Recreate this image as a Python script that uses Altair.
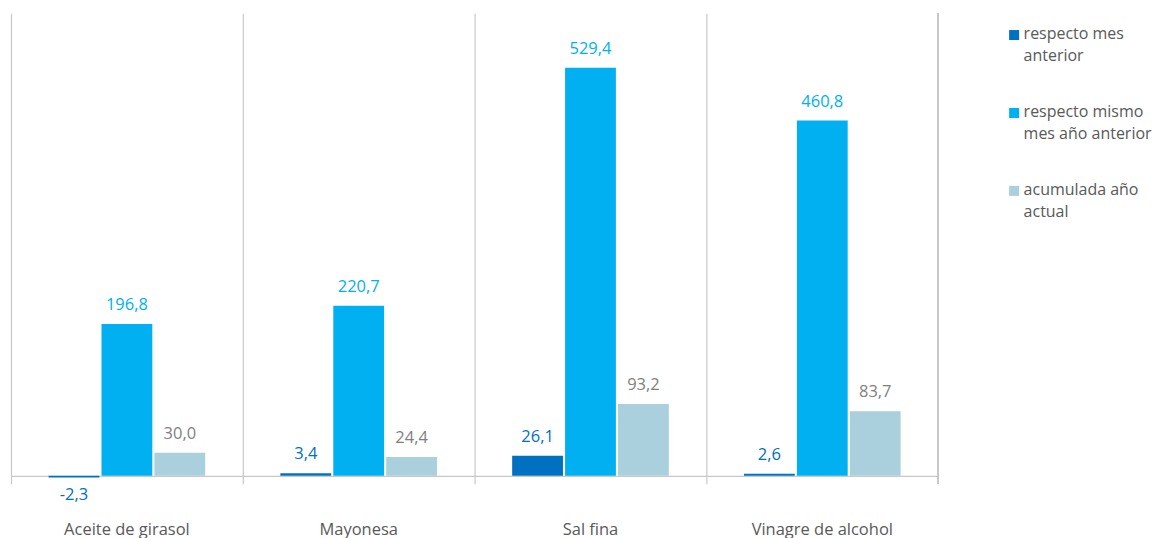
import altair as alt
import pandas as pd

categories = ["Aceite de girasol", "Mayonesa", "Sal fina", "Vinagre de alcohol"]
series = ["respecto mes anterior", "respecto mismo mes año anterior", "acumulada año actual"]
legend_text = ["respecto mes\nanterior", "respecto mismo\nmes año anterior", "acumulada año\nactual"]
mes_anterior = [-2.3, 3.4, 26.1, 2.6]
mismo_mes = [196.8, 220.7, 529.4, 460.8]
acumulada = [30.0, 24.4, 93.2, 83.7]

bar_colors = ["#0070C0", "#00B0F0", "#AAD0DE"]
text_colors = ["#0070C0", "#00B0F0", "#7F7F7F"]

rows = []
for s, vals in zip(series, [mes_anterior, mismo_mes, acumulada]):
    for c, v in zip(categories, vals):
        rows.append({"cat": c, "serie": s, "valor": v,
                     "label": f"{v:.1f}".replace(".", ",")})
df = pd.DataFrame(rows)
leg_df = pd.DataFrame({"serie": series, "texto": legend_text})

W, H = 928, 463
FONT = "Open Sans"
FS = 16.5
GRID = "#C8C8C8"

x = alt.X("cat:N", sort=categories, title=None,
          scale=alt.Scale(paddingInner=0, paddingOuter=0),
          axis=alt.Axis(bandPosition=0, grid=True, gridColor=GRID, gridWidth=1.2,
                        domainColor=GRID, domainWidth=1.2,
                        tickColor=GRID, tickWidth=1.2, tickSize=8,
                        labelAngle=0, labelFontSize=FS, labelColor="#595959", labelFont=FONT,
                        labelPadding=38, labelAlign="center"))
xoff = alt.XOffset("serie:N", sort=series,
                   scale=alt.Scale(paddingInner=0.04, paddingOuter=0.71))
y = alt.Y("valor:Q", scale=alt.Scale(domain=[0, 600], nice=False, clamp=False), axis=None)

color = alt.Color("serie:N", sort=series,
                  scale=alt.Scale(domain=series, range=bar_colors), legend=None)

bars = alt.Chart(df).mark_bar().encode(x=x, xOffset=xoff, y=y, color=color)

tcolor = alt.Color("serie:N", sort=series,
                   scale=alt.Scale(domain=series, range=text_colors), legend=None)

pos_text = alt.Chart(df).transform_filter("datum.valor >= 0").mark_text(
    baseline="bottom", dy=-11, fontSize=FS, font=FONT
).encode(x=x, xOffset=xoff, y=y, text="label:N", color=tcolor)

neg_text = alt.Chart(df).transform_filter("datum.valor < 0").mark_text(
    baseline="top", dy=9, fontSize=FS, font=FONT
).encode(x=x, xOffset=xoff, y=y, text="label:N", color=tcolor)

edge = alt.Chart(df).mark_rule(color=GRID, strokeWidth=1.2).encode(
    x=alt.value(W), y=alt.value(0), y2=alt.value(H + 8))

main = alt.layer(bars, pos_text, neg_text, edge).resolve_scale(color="independent").properties(
    width=W, height=H)

ly = alt.Y("serie:N", sort=series, scale=alt.Scale(type="point", padding=0.28), axis=None)
leg_sym = alt.Chart(leg_df).mark_square(size=100, opacity=1).encode(
    x=alt.value(5), y=ly,
    color=alt.Color("serie:N", sort=series,
                    scale=alt.Scale(domain=series, range=bar_colors), legend=None))
leg_txt = alt.Chart(leg_df).mark_text(
    align="left", baseline="top", dy=-9, lineBreak="\n", lineHeight=22,
    fontSize=16, font=FONT, color="#595959"
).encode(x=alt.value(14.5), y=ly, text="texto:N")
legend = alt.layer(leg_sym, leg_txt).properties(width=134, height=alt.Step(78))

chart = alt.hconcat(main, legend, spacing=70).properties(
    padding={"left": 2, "top": 4, "right": 0, "bottom": 0}
).configure(font=FONT).configure_view(stroke="transparent", strokeWidth=0)

chart.save("out.html", embed_options={"renderer": "svg", "actions": False})
